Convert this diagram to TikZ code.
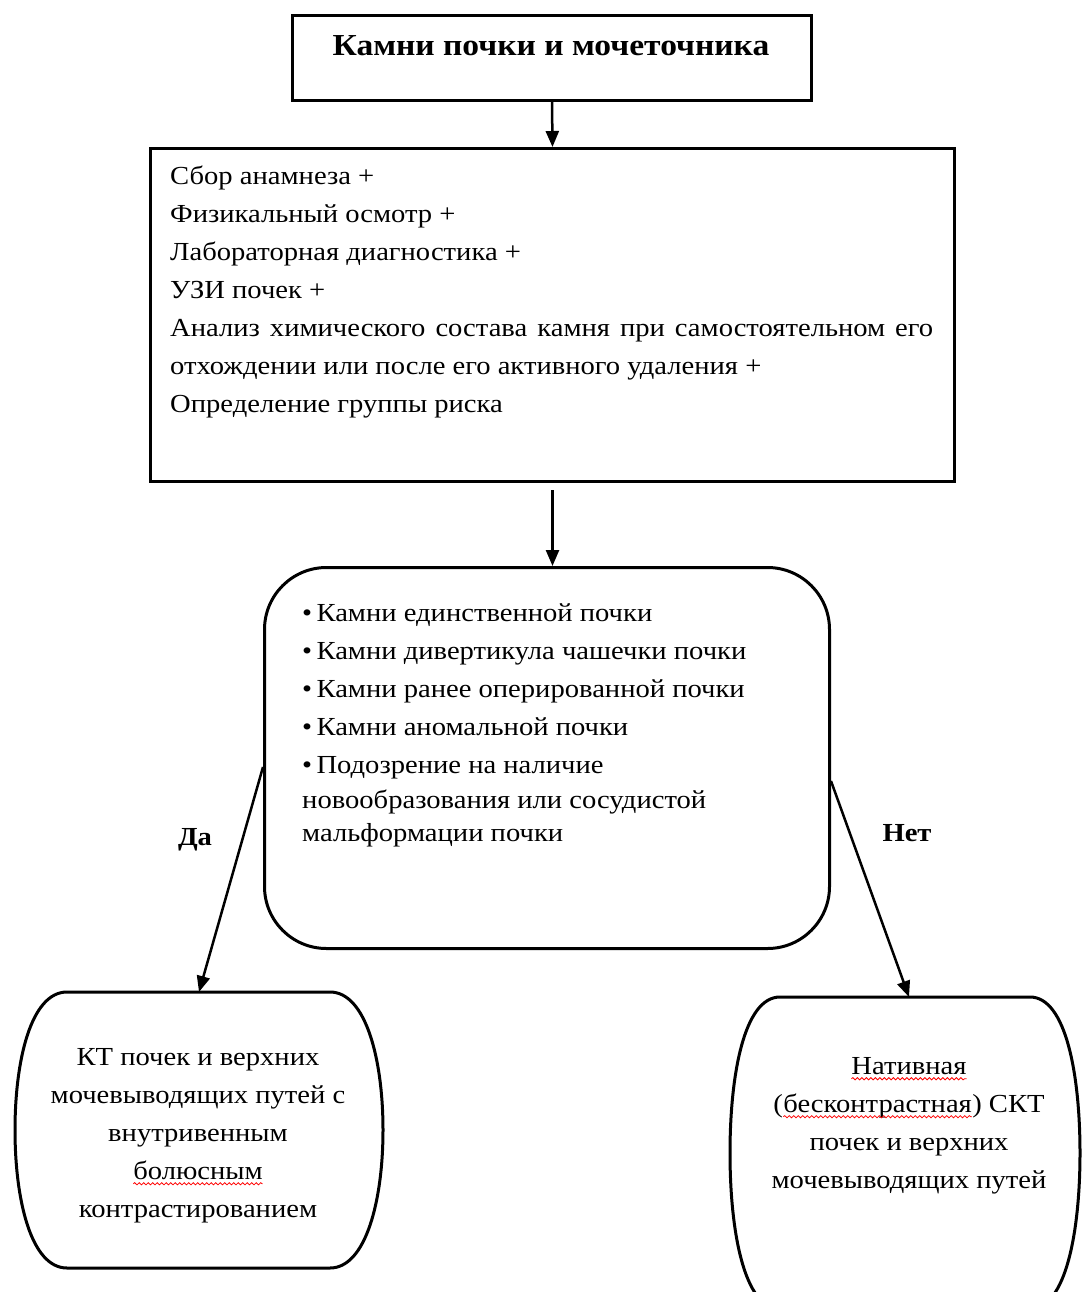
\documentclass[tikz,border=0pt]{standalone}
\usepackage{fontspec}
\setmainfont{Liberation Serif}[FakeStretch=1.1]
\usetikzlibrary{arrows.meta,decorations.pathmorphing,calc}

\tikzset{
  sqbox/.style={draw,line width=3pt,inner sep=0pt},
  rbox/.style={draw,line width=3pt,rounded corners=62pt,inner sep=0pt},
  ghost/.style={inner sep=0pt,outer sep=0pt},
  outline/.style={line width=3pt},
  arr/.style={line width=2.5pt,-{Triangle[length=16pt,width=13pt]}},
  body/.style={font=\fontsize{26}{38}\selectfont,inner sep=0pt},
  lab/.style={font=\bfseries\fontsize{26}{30}\selectfont,inner sep=0pt},
  wavy/.style={red,line width=0.8pt,decorate,decoration={snake,amplitude=1.1pt,segment length=4.5pt}},
}
\newcommand\sqw[1]{\tikz[baseline=(sq.base)]{\node[inner sep=0pt,outer sep=0pt,draw=none](sq){#1};\draw[wavy]([yshift=-4pt]sq.base west)--([yshift=-4pt]sq.base east);}}

\begin{document}
\begin{tikzpicture}[x=1pt,y=-1pt]
\path[use as bounding box,fill=white] (0,0) rectangle (1081,1292);

% top box
\node[sqbox,minimum width=519pt,minimum height=85pt,anchor=north west] (b1) at (291,14) {};
\node[anchor=base,font=\bfseries\fontsize{30.5}{32}\selectfont,inner sep=0pt] (t1) at (551,56) {Камни почки и мочеточника};

% second box
\node[sqbox,minimum width=804pt,minimum height=333pt,anchor=north west] (b2) at (149,147) {};
\node[body,anchor=north west,align=left] (t2) at (170,166) {Сбор анамнеза +\\
Физикальный осмотр +\\
Лабораторная диагностика +\\
УЗИ почек +\\
\makebox[763pt][s]{Анализ химического состава камня при самостоятельном его}\\
отхождении или после его активного удаления +\\
Определение группы риска};

% third box
\node[rbox,minimum width=565pt,minimum height=381pt,anchor=north west] (b3) at (263,566) {};
\node[body,anchor=north west,align=left] (t3) at (302,603) {\textbullet\,Камни единственной почки\\
\textbullet\,Камни дивертикула чашечки почки\\
\textbullet\,Камни ранее оперированной почки\\
\textbullet\,Камни аномальной почки\\
\textbullet\,Подозрение на наличие\\[-3pt]
новообразования или сосудистой\\[-5pt]
мальформации почки};

% bottom left
\node[ghost,minimum width=368pt,minimum height=276pt,anchor=north west] (b4) at (15,992) {};
\draw[outline] (67,992) -- (330,992) .. controls (366,992) and (383,1060) .. (383,1130)
  .. controls (383,1200) and (366,1268) .. (330,1268) -- (67,1268)
  .. controls (31,1268) and (15,1200) .. (15,1130)
  .. controls (15,1060) and (31,992) .. (67,992) -- cycle;
\node[body,align=center] (t4) at (198,1136) {КТ почек и верхних\\
мочевыводящих путей с\\
внутривенным\\
\sqw{болюсным}\\
контрастированием};

% bottom right
\node[ghost,minimum width=350pt,minimum height=312pt,anchor=north west] (b5) at (730,997) {};
\draw[outline] (780,997) -- (1030,997) .. controls (1066,997) and (1080,1075) .. (1080,1153)
  .. controls (1080,1231) and (1066,1309) .. (1030,1309) -- (780,1309)
  .. controls (744,1309) and (730,1231) .. (730,1153)
  .. controls (730,1075) and (744,997) .. (780,997) -- cycle;
\node[body,align=center] (t5) at (909,1126) {\sqw{Нативная}\\
(\sqw{бесконтрастная}) СКТ\\
почек и верхних\\
мочевыводящих путей};

% labels
\node[lab] (da) at (195,840) {Да};
\node[lab] (net) at (907,833) {Нет};

% arrows
\draw[arr] (b1.south) -- (b2.north);
\draw[arr] ([yshift=-7pt]b2.south) -- (b2.south |- b3.north);
\draw[arr] ([yshift=-9pt]b3.west) -- (b4.north);
\draw[arr] ([yshift=-23pt]b3.east) -- ([xshift=4pt]b5.north);
\end{tikzpicture}
\end{document}
